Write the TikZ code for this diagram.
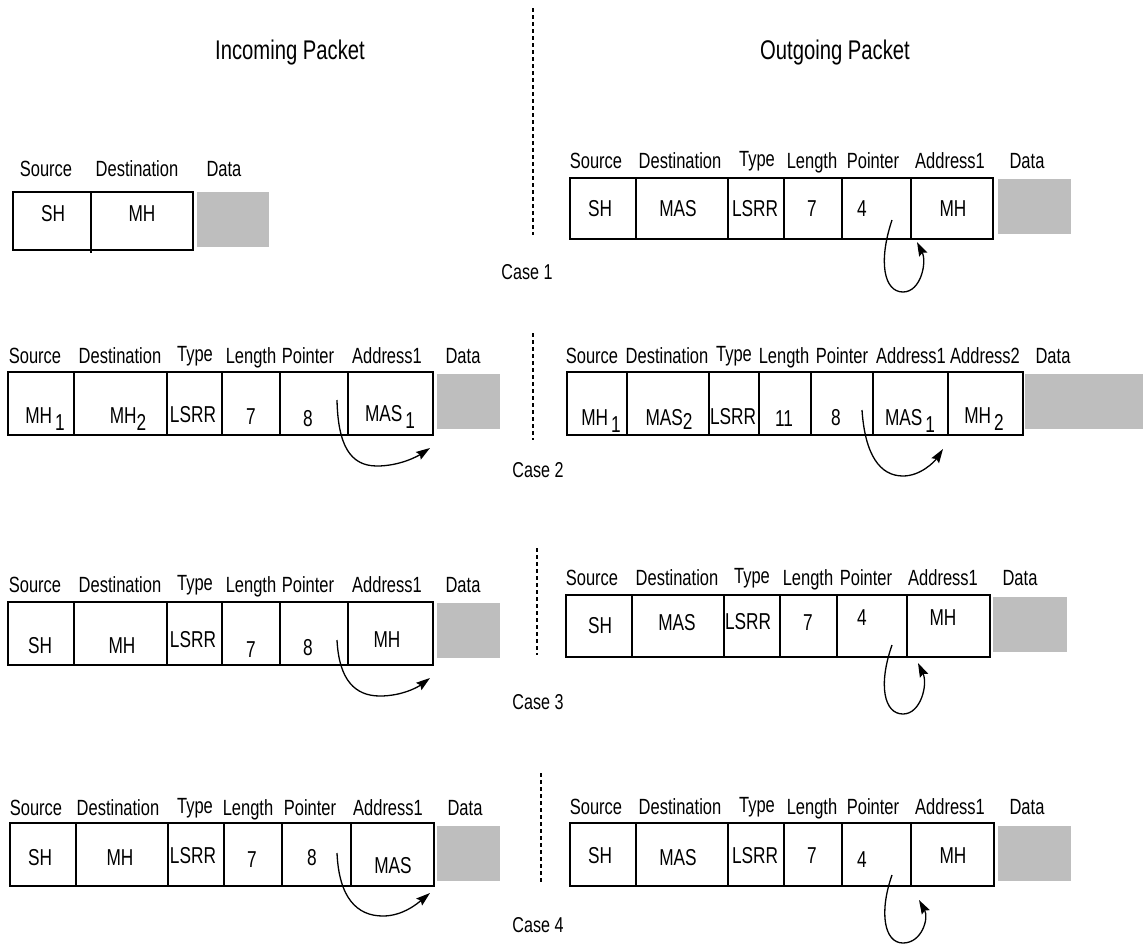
\documentclass[tikz,border=0pt]{standalone}
\usepackage{fontspec}
\setmainfont{Liberation Sans}[FakeStretch=0.75]
\usetikzlibrary{arrows.meta}
\definecolor{datagray}{RGB}{190,190,190}
\newcommand\lsub[1]{\raisebox{-7pt}{#1}}
\newcommand\pktframe[5]{%
  \draw[boxline] (#1,#2) rectangle (#3,#4);
  \foreach \xx in {#5} {\draw[boxline] (\xx,#2) -- (\xx,#4);}}
\begin{document}
\begin{tikzpicture}[x=1pt,y=-1pt,
  boxline/.style={line width=1.4pt},
  thickdiv/.style={line width=2.6pt},
  datafill/.style={fill=datagray},
  lbl/.style={font=\fontsize{22}{26}\selectfont, anchor=base, inner sep=0pt},
  cell/.style={font=\fontsize{23}{26}\selectfont, anchor=base, inner sep=0pt},
  hdr/.style={font=\fontsize{27}{32}\selectfont, inner sep=0pt},
  caselbl/.style={font=\fontsize{21.5}{26}\selectfont, inner sep=0pt},
  sep/.style={line width=1.3pt, dash pattern=on 4pt off 3pt},
  ptr/.style={line width=1.3pt, -{Stealth[length=14pt,width=9pt,inset=2pt]}}]
\useasboundingbox (0,0) rectangle (1143,945);

% headers and separators
\node[hdr] (hin) at (290,53) {Incoming Packet};
\node[hdr] (hout) at (835,53) {Outgoing Packet};
\draw[sep] (533,8) -- (533,235);
\draw[sep] (533,333) -- (533,440);
\draw[sep] (537,548) -- (537,655);
\draw[sep] (541,773) -- (541,882);
\node[caselbl] (c1) at (527,272) {Case 1};
\node[caselbl] (c2) at (538,470) {Case 2};
\node[caselbl] (c3) at (538,702) {Case 3};
\node[caselbl] (c4) at (538,925) {Case 4};

% ---------- Case 1 left
\draw[boxline] (13,192) rectangle (193,250);
\draw[boxline] (91,192) -- (91,253);
\fill[datafill] (197,192) rectangle (269,247);
\node[lbl] (a1) at (46,176) {Source};
\node[lbl] (a2) at (137,176) {Destination};
\node[lbl] (a3) at (224,176) {Data};
\node[cell] (av1) at (53,221) {SH};
\node[cell] (av2) at (142,221) {MH};

% ---------- Case 1 right
\pktframe{570}{178}{993}{239}{636,728,784,842}
\draw[thickdiv] (911,178) -- (911,239);
\fill[datafill] (998,179) rectangle (1071,234);
\node[lbl] (b1) at (596,168) {Source};
\node[lbl] (b2) at (680,168) {Destination};
\node[lbl] (b3) at (757,166) {Type};
\node[lbl] (b4) at (812,168) {Length};
\node[lbl] (b5) at (873,168) {Pointer};
\node[lbl] (b6) at (950,168) {Address1};
\node[lbl] (b7) at (1027,168) {Data};
\node[cell] (bv1) at (600,216) {SH};
\node[cell] (bv2) at (678,216) {MAS};
\node[cell] (bv3) at (755,216) {LSRR};
\node[cell] (bv4) at (812,216) {7};
\node[cell] (bv5) at (862,216) {4};
\node[cell] (bv6) at (953,216) {MH};
\coordinate (bs) at (892,220);
\coordinate (bm) at (903,292);
\coordinate (be) at (917,242);
\draw[ptr] (bs) .. controls (878,262) and (884,292) .. (bm)
               .. controls (921,292) and (927,262) .. (be);

% ---------- Case 2 left
\pktframe{8}{372}{433}{435}{74,167,222,280}
\draw[thickdiv] (348,372) -- (348,435);
\fill[datafill] (437,374) rectangle (500,429);
\node[lbl] (c2l1) at (35,363) {Source};
\node[lbl] (c2l2) at (120,363) {Destination};
\node[lbl] (c2l3) at (195,361) {Type};
\node[lbl] (c2l4) at (251,363) {Length};
\node[lbl] (c2l5) at (308,363) {Pointer};
\node[lbl] (c2l6) at (387,363) {Address1};
\node[lbl] (c2l7) at (463,363) {Data};
\node[cell] (cv1) at (45,423) {MH\hspace{3pt}\lsub{1}};
\node[cell] (cv2) at (128,423) {MH\lsub{2}};
\node[cell] (cv3) at (193,422.5) {LSRR};
\node[cell] (cv4) at (251,424) {7};
\node[cell] (cv5) at (308,426) {8};
\node[cell] (cv6) at (390,421.5) {MAS\hspace{3pt}\lsub{1}};
\coordinate (cs) at (337,400);
\coordinate (cm) at (377,466);
\coordinate (ce) at (430,448);
\draw[ptr] (cs) .. controls (338,445) and (350,466) .. (cm)
               .. controls (400,466) and (418,456) .. (ce);

% ---------- Case 2 right
\pktframe{567}{372}{1023}{435}{627,709,759,811,948}
\draw[thickdiv] (873,372) -- (873,435);
\fill[datafill] (1025,374) rectangle (1143,429);
\node[lbl] (d1) at (592,363) {Source};
\node[lbl] (d2) at (667,363) {Destination};
\node[lbl] (d3) at (734,361) {Type};
\node[lbl] (d4) at (784,363) {Length};
\node[lbl] (d5) at (842,363) {Pointer};
\node[lbl] (d6) at (911,363) {Address1};
\node[lbl] (d7) at (985,363) {Address2};
\node[lbl] (d8) at (1053,363) {Data};
\node[cell] (dv1) at (601,425) {MH\hspace{3pt}\lsub{1}};
\node[cell] (dv2) at (669,425) {MAS\raisebox{-4pt}{2}};
\node[cell] (dv3) at (733,424.5) {LSRR};
\node[cell] (dv4) at (784,426) {11};
\node[cell] (dv5) at (836,425) {8};
\node[cell] (dv6) at (910,425) {MAS\hspace{3pt}\lsub{1}};
\node[cell] (dv7) at (984,423) {MH\hspace{3pt}\lsub{2}};
\coordinate (ds) at (862,410);
\coordinate (dm) at (903,476);
\coordinate (de) at (943,449);
\draw[ptr] (ds) .. controls (865,455) and (880,476) .. (dm)
               .. controls (921,476) and (935,461) .. (de);

% ---------- Case 3 left
\pktframe{8}{602}{433}{665}{74,167,222,280}
\draw[thickdiv] (348,602) -- (348,665);
\fill[datafill] (437,603) rectangle (500,658);
\node[lbl] (e1) at (35,592) {Source};
\node[lbl] (e2) at (120,592) {Destination};
\node[lbl] (e3) at (195,590) {Type};
\node[lbl] (e4) at (251,592) {Length};
\node[lbl] (e5) at (308,592) {Pointer};
\node[lbl] (e6) at (387,592) {Address1};
\node[lbl] (e7) at (463,592) {Data};
\node[cell] (ev1) at (40,653) {SH};
\node[cell] (ev2) at (122,653) {MH};
\node[cell] (ev3) at (193,647) {LSRR};
\node[cell] (ev4) at (251,657) {7};
\node[cell] (ev5) at (308,655) {8};
\node[cell] (ev6) at (387,647) {MH};
\coordinate (es) at (337,640);
\coordinate (em) at (380,696);
\coordinate (ee) at (430,678);
\draw[ptr] (es) .. controls (339,680) and (355,696) .. (em)
               .. controls (402,696) and (418,687) .. (ee);

% ---------- Case 3 right
\pktframe{566}{595}{990}{657}{632,724,780,837}
\draw[thickdiv] (907,595) -- (907,657);
\fill[datafill] (993,597) rectangle (1067,652);
\node[lbl] (f1) at (592,585) {Source};
\node[lbl] (f2) at (677,585) {Destination};
\node[lbl] (f3) at (752,583) {Type};
\node[lbl] (f4) at (808,585) {Length};
\node[lbl] (f5) at (866,585) {Pointer};
\node[lbl] (f6) at (943,585) {Address1};
\node[lbl] (f7) at (1020,585) {Data};
\node[cell] (fv1) at (600,633) {SH};
\node[cell] (fv2) at (677,630) {MAS};
\node[cell] (fv3) at (748,629) {LSRR};
\node[cell] (fv4) at (808,630) {7};
\node[cell] (fv5) at (862,625) {4};
\node[cell] (fv6) at (943,625) {MH};
\coordinate (fs) at (892,645);
\coordinate (fm) at (903,714);
\coordinate (fe) at (918,663);
\draw[ptr] (fs) .. controls (878,685) and (884,714) .. (fm)
               .. controls (921,714) and (928,684) .. (fe);

% ---------- Case 4 left
\pktframe{10}{823}{434}{886}{76,168,224,282}
\draw[thickdiv] (351,823) -- (351,886);
\fill[datafill] (437,826) rectangle (500,881);
\node[lbl] (g1) at (36,815) {Source};
\node[lbl] (g2) at (118,815) {Destination};
\node[lbl] (g3) at (195,813) {Type};
\node[lbl] (g4) at (248,815) {Length};
\node[lbl] (g5) at (310,815) {Pointer};
\node[lbl] (g6) at (388,815) {Address1};
\node[lbl] (g7) at (465,815) {Data};
\node[cell] (gv1) at (40,865) {SH};
\node[cell] (gv2) at (120,865) {MH};
\node[cell] (gv3) at (193,863) {LSRR};
\node[cell] (gv4) at (252,867) {7};
\node[cell] (gv5) at (312,865) {8};
\node[cell] (gv6) at (393,873) {MAS};
\coordinate (gs) at (337,853);
\coordinate (gm) at (383,916);
\coordinate (ge) at (430,893);
\draw[ptr] (gs) .. controls (339,898) and (357,916) .. (gm)
               .. controls (403,916) and (418,903) .. (ge);

% ---------- Case 4 right
\pktframe{570}{823}{994}{886}{636,728,784,842}
\draw[thickdiv] (911,823) -- (911,886);
\fill[datafill] (998,826) rectangle (1071,881);
\node[lbl] (h1) at (596,814) {Source};
\node[lbl] (h2) at (680,814) {Destination};
\node[lbl] (h3) at (757,812) {Type};
\node[lbl] (h4) at (812,814) {Length};
\node[lbl] (h5) at (873,814) {Pointer};
\node[lbl] (h6) at (950,814) {Address1};
\node[lbl] (h7) at (1027,814) {Data};
\node[cell] (hv1) at (600,863) {SH};
\node[cell] (hv2) at (678,865) {MAS};
\node[cell] (hv3) at (755,863) {LSRR};
\node[cell] (hv4) at (812,863) {7};
\node[cell] (hv5) at (862,867) {4};
\node[cell] (hv6) at (953,863) {MH};
\coordinate (hs) at (892,875);
\coordinate (hm) at (903,943);
\coordinate (he) at (919,900);
\draw[ptr] (hs) .. controls (879,912) and (884,943) .. (hm)
               .. controls (922,943) and (929,918) .. (he);
\end{tikzpicture}
\end{document}
